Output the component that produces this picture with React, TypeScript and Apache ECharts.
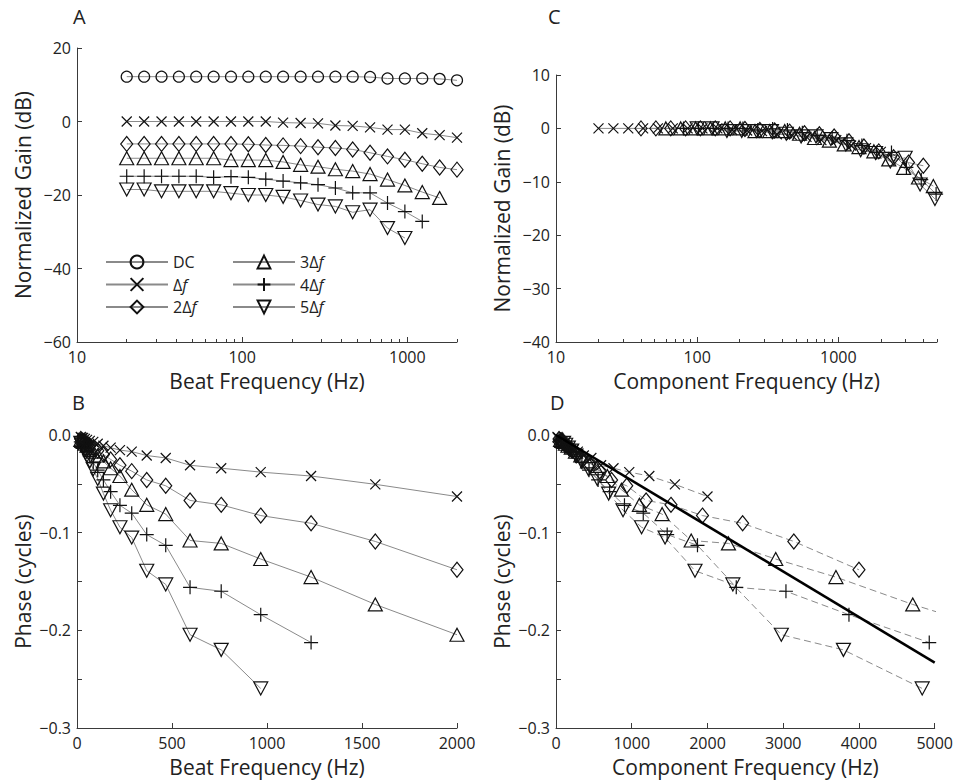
import React, { useEffect, useRef } from "react";
import * as echarts from "echarts";

// ---------------- data ----------------
const beatHz = [20, 25.5, 32.5, 41.4, 52.7, 67.2, 85.6, 109, 139, 177, 226, 288, 367, 467, 595, 759, 967, 1232, 1570, 2000];

const seriesNames = ["DC", "Δf", "2Δf", "3Δf", "4Δf", "5Δf"];
const harmonic = [0, 1, 2, 3, 4, 5];

// Panel A: normalized gain (dB) vs beat frequency
const gainDC = [12.2, 12.2, 12.2, 12.2, 12.2, 12.2, 12.2, 12.2, 12.2, 12.2, 12.2, 12.2, 12.2, 12.2, 12.1, 11.7, 11.7, 11.7, 11.6, 11.2];
const gain1 = [0, 0, 0, 0, 0, 0, 0, 0, 0, -0.3, -0.4, -0.5, -1.1, -1.2, -1.6, -2.2, -2.2, -3.2, -3.7, -4.4];
const gain2 = [-6.1, -6.1, -6.1, -6.1, -6.1, -6.1, -6.1, -6.2, -6.4, -6.5, -6.7, -7.0, -7.2, -7.6, -8.5, -9.5, -10.4, -11.5, -12.5, -13.1];
const gain3 = [-10.0, -10.0, -10.0, -10.0, -10.0, -10.0, -10.5, -10.5, -10.5, -11.0, -11.8, -12.3, -13.0, -13.5, -14.3, -15.8, -17.4, -19.2, -20.8];
const gain4 = [-14.9, -14.9, -14.9, -14.9, -14.9, -15.2, -15.0, -15.2, -15.7, -16.2, -16.7, -17.2, -18.1, -19.4, -19.4, -22.2, -24.5, -27.2];
const gain5 = [-18.5, -18.5, -19.0, -19.0, -19.0, -19.0, -19.5, -20.0, -20.0, -20.5, -21.5, -22.6, -23.1, -24.7, -24.0, -29.0, -31.7];

// Panel B: phase (cycles) vs beat frequency
const phase1 = [-0.002, -0.003, -0.003, -0.004, -0.005, -0.006, -0.007, -0.009, -0.011, -0.013, -0.0155, -0.017, -0.021, -0.0235, -0.031, -0.034, -0.038, -0.042, -0.0505, -0.063];
const phase2 = [-0.004, -0.005, -0.006, -0.007, -0.009, -0.011, -0.013, -0.016, -0.02, -0.025, -0.031, -0.037, -0.046, -0.052, -0.067, -0.0715, -0.0825, -0.0904, -0.109, -0.138];
const phase3 = [-0.005, -0.006, -0.007, -0.009, -0.011, -0.013, -0.017, -0.021, -0.027, -0.034, -0.042, -0.056, -0.0715, -0.081, -0.108, -0.111, -0.127, -0.1455, -0.1735, -0.2045];
const phase4 = [-0.007, -0.008, -0.011, -0.014, -0.017, -0.022, -0.028, -0.036, -0.046, -0.058, -0.072, -0.08, -0.102, -0.113, -0.156, -0.16, -0.184, -0.2125];
const phase5 = [-0.008, -0.01, -0.013, -0.016, -0.021, -0.027, -0.035, -0.045, -0.06, -0.077, -0.0945, -0.105, -0.139, -0.153, -0.2045, -0.22, -0.2595];

// Panel D: linear fit line
const fitHz = [0, 5000];
const fitPhase = [0, -0.233];

// tick values
const logMajorTicks = [10, 100, 1000];
const logMinorTicksA = [20, 30, 40, 50, 60, 70, 80, 90, 200, 300, 400, 500, 600, 700, 800, 900, 2000];
const logMinorTicksC = [20, 30, 40, 50, 60, 70, 80, 90, 200, 300, 400, 500, 600, 700, 800, 900, 2000, 3000, 4000, 5000];

const gains = [gainDC, gain1, gain2, gain3, gain4, gain5];
const phases = [null, phase1, phase2, phase3, phase4, phase5];

// ---------------- styling ----------------
const FONT = '"Open Sans", "Noto Sans", sans-serif';
const AXIS_COLOR = "#3a3a3a";
const TEXT_COLOR = "#222";
const LINE_GRAY = "#8a8a8a";

const SYMBOLS: any[] = [
  { symbol: "circle", size: 11 },
  { symbol: "path://M0,0L10,10M10,0L0,10", size: 10 },
  { symbol: "diamond", size: [12, 15] },
  { symbol: "triangle", size: [14, 13] },
  { symbol: "path://M5,0L5,10M0,5L10,5", size: 14 },
  { symbol: "triangle", size: [14, 13], rotate: 180 },
];

const minus = (s: string) => s.replace(/-/g, "\u2212");

function makeSeries(name: string, data: number[][], xi: number, yi: number, k: number, dashed = false) {
  const s = SYMBOLS[k];
  return {
    type: "line",
    name,
    xAxisIndex: xi,
    yAxisIndex: yi,
    data,
    symbol: s.symbol,
    symbolSize: s.size,
    symbolRotate: s.rotate || 0,
    showSymbol: true,
    clip: true,
    itemStyle: { color: "rgba(0,0,0,0)", borderColor: "#111", borderWidth: 1.2 },
    lineStyle: { color: LINE_GRAY, width: 1, type: dashed ? [7, 4] : "solid" },
    emphasis: { disabled: true },
    silent: true,
  };
}

function axisName(text: string) {
  return {
    name: text,
    nameLocation: "middle",
    nameTextStyle: { fontFamily: FONT, fontSize: 21, color: TEXT_COLOR },
  };
}

const baseLine = { show: true, onZero: false, lineStyle: { color: AXIS_COLOR, width: 1 } };
const labelStyle = { fontFamily: FONT, fontSize: 16, color: TEXT_COLOR };

function logAxes(gridIndex: number, max: number, minorTicks: number[], title: string) {
  return [
    {
      type: "log",
      logBase: 10,
      gridIndex,
      position: "bottom",
      min: 10,
      max,
      ...axisName(title),
      nameGap: 28,
      axisLine: baseLine,
      axisTick: { show: true, inside: true, length: 5, customValues: logMajorTicks, lineStyle: { color: AXIS_COLOR } },
      axisLabel: {
        ...labelStyle,
        margin: 7,
        customValues: logMajorTicks,
        formatter: (v: number) => (logMajorTicks.some((t) => Math.abs(t - v) / t < 1e-6) ? String(Math.round(v)) : ""),
        showMinLabel: true,
        showMaxLabel: true,
      },
      splitLine: { show: false },
    },
    {
      type: "log",
      logBase: 10,
      gridIndex,
      position: "bottom",
      min: 10,
      max,
      axisLine: { show: false, onZero: false },
      axisTick: { show: true, inside: true, length: 3, customValues: minorTicks, lineStyle: { color: AXIS_COLOR } },
      axisLabel: { show: false },
      splitLine: { show: false },
    },
  ];
}

function linXAxis(gridIndex: number, max: number, interval: number, title: string) {
  return {
    type: "value",
    gridIndex,
    position: "bottom",
    min: 0,
    max,
    interval,
    ...axisName(title),
    nameGap: 28,
    axisLine: baseLine,
    axisTick: { show: true, inside: true, length: 5, lineStyle: { color: AXIS_COLOR } },
    axisLabel: { ...labelStyle, margin: 7, formatter: (v: number) => String(v) },
    splitLine: { show: false },
  };
}

function yAxis(gridIndex: number, min: number, max: number, interval: number, title: string, fmt: (v: number) => string) {
  return {
    type: "value",
    gridIndex,
    position: "left",
    min,
    max,
    interval,
    ...axisName(title),
    nameGap: 44,
    axisLine: baseLine,
    axisTick: { show: true, inside: true, length: 5, lineStyle: { color: AXIS_COLOR } },
    axisLabel: { ...labelStyle, margin: 6, formatter: fmt },
    splitLine: { show: false },
  };
}

const phaseFmt = (v: number) => {
  const t = v * 10;
  if (Math.abs(t - Math.round(t)) > 1e-6) return "";
  return minus((Math.round(t) / 10).toFixed(1)).replace("\u22120.0", "0.0");
};

function buildOption() {
  const series: any[] = [];
  // A: grid 0, xAxis 0, yAxis 0
  seriesNames.forEach((name, k) => {
    const g = gains[k];
    series.push(makeSeries(name, g.map((y, i) => [beatHz[i], y]), 0, 0, k));
  });
  // C: grid 1, xAxis 2, yAxis 1 (component frequency, gain normalized to low-frequency value)
  seriesNames.forEach((name, k) => {
    if (k === 0) return;
    const g = gains[k];
    series.push(makeSeries(name, g.map((y, i) => [beatHz[i] * harmonic[k], y - g[0]]), 2, 1, k));
  });
  // B: grid 2, xAxis 4, yAxis 2
  seriesNames.forEach((name, k) => {
    const p = phases[k];
    if (!p) return;
    series.push(makeSeries(name, p.map((y, i) => [beatHz[i], y]), 4, 2, k));
  });
  // D: grid 3, xAxis 5, yAxis 3
  seriesNames.forEach((name, k) => {
    const p = phases[k];
    if (!p) return;
    series.push(makeSeries(name, p.map((y, i) => [beatHz[i] * harmonic[k], y]), 5, 3, k, true));
  });
  series.push({
    type: "line",
    name: "fit",
    xAxisIndex: 5,
    yAxisIndex: 3,
    data: fitHz.map((x, i) => [x, fitPhase[i]]),
    symbol: "none",
    lineStyle: { color: "#000", width: 2.6 },
    silent: true,
    z: 5,
  });

  const legendText = {
    fontFamily: FONT,
    fontSize: 16,
    color: TEXT_COLOR,
    rich: {
      n: { fontFamily: FONT, fontSize: 16, color: TEXT_COLOR },
      i: { fontFamily: FONT, fontSize: 16, color: TEXT_COLOR, fontStyle: "italic" },
    },
  };
  const legendFmt = (name: string) => (name === "DC" ? "DC" : "{n|" + name.slice(0, -1) + "}{i|f}");
  const legendCommon = {
    orient: "vertical",
    top: 254,
    itemWidth: 62,
    itemHeight: 16,
    itemGap: 6.5,
    selectedMode: false,
    textStyle: legendText,
    formatter: legendFmt,
    padding: 0,
  };

  const letter = (t: string, x: number, y: number) => ({
    type: "text",
    left: x,
    top: y,
    style: { text: t, fontFamily: FONT, fontSize: 20, fill: TEXT_COLOR },
  });

  return {
    animation: false,
    backgroundColor: "#fff",
    grid: [
      { left: 77, top: 48, width: 380, height: 294 },
      { left: 556, top: 75, width: 381, height: 267 },
      { left: 77, top: 435, width: 380, height: 293 },
      { left: 556, top: 435, width: 381, height: 293 },
    ],
    xAxis: [
      ...logAxes(0, 2000, logMinorTicksA, "Beat Frequency (Hz)"),
      ...logAxes(1, 5000, logMinorTicksC, "Component Frequency (Hz)"),
      linXAxis(2, 2000, 500, "Beat Frequency (Hz)"),
      linXAxis(3, 5000, 1000, "Component Frequency (Hz)"),
    ],
    yAxis: [
      yAxis(0, -60, 20, 20, "Normalized Gain (dB)", (v) => minus(String(v))),
      yAxis(1, -40, 10, 10, "Normalized Gain (dB)", (v) => minus(String(v))),
      yAxis(2, -0.3, 0, 0.05, "Phase (cycles)", phaseFmt),
      yAxis(3, -0.3, 0, 0.05, "Phase (cycles)", phaseFmt),
    ],
    legend: [
      { ...legendCommon, left: 105, data: ["DC", "Δf", "2Δf"] },
      { ...legendCommon, left: 232, data: ["3Δf", "4Δf", "5Δf"] },
    ],
    graphic: [letter("A", 73, 6), letter("C", 548, 6), letter("B", 72, 392), letter("D", 550, 392)],
    series,
  };
}

export default function App() {
  const ref = useRef<HTMLDivElement>(null);
  useEffect(() => {
    if (!ref.current) return;
    const chart = echarts.init(ref.current, undefined, { renderer: "svg" });
    chart.setOption(buildOption() as any);
    return () => chart.dispose();
  }, []);
  return (
    <div
      ref={ref}
      style={{ position: "absolute", left: 0, top: 0, width: 956, height: 782, background: "#fff" }}
    />
  );
}
